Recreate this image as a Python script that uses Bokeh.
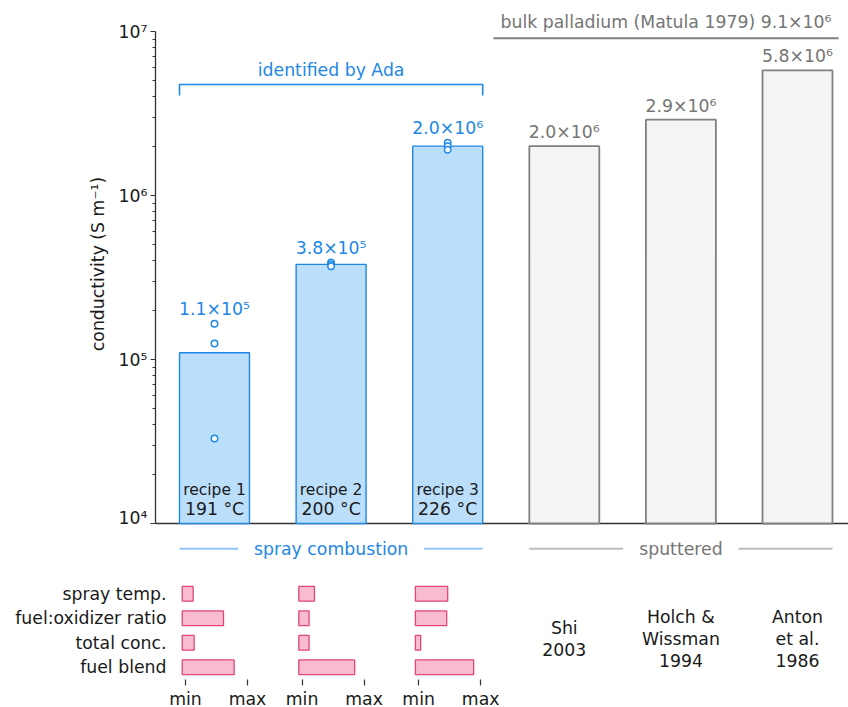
import numpy as np
from bokeh.plotting import figure
from bokeh.layouts import column
from bokeh.models import Range1d, FixedTicker
from bokeh.core.properties import value
from bokeh.embed import file_html
from bokeh.resources import INLINE

# ---------------- data ----------------
recipe_names = ["recipe 1", "recipe 2", "recipe 3"]
recipe_temps = ["191 °C", "200 °C", "226 °C"]
recipe_means = [1.1e5, 3.8e5, 2.0e6]
recipe_points = [[1.65e5, 1.25e5, 3.3e4],
                 [3.9e5, 3.8e5, 3.7e5],
                 [2.1e6, 2.0e6, 1.9e6]]
sputter_names = ["Shi\n2003", "Holch &\nWissman\n1994", "Anton\net al.\n1986"]
sputter_values = [2.0e6, 2.9e6, 5.8e6]
bulk_value = 9.1e6
bulk_name = "bulk palladium (Matula 1979)"
param_names = ["spray temp.", "fuel:oxidizer ratio", "total conc.", "fuel blend"]
param_values = [[0.124, 0.613, 0.140, 0.785],
                [0.200, 0.113, 0.113, 0.848],
                [0.468, 0.452, 0.032, 0.887]]
y_ticks = [1e4, 1e5, 1e6, 1e7]
y_tick_labels = ["10⁴", "10⁵", "10⁶", "10⁷"]
group_names = ["spray combustion", "sputtered"]
axis_title = "conductivity (S m⁻¹)"
bracket_title = "identified by Ada"

SUP = str.maketrans("0123456789-", "⁰¹²³⁴⁵⁶⁷⁸⁹⁻")


def sci(v):
    e = int(np.floor(np.log10(v)))
    m = v / 10 ** e
    return f"{m:.1f}×10" + str(e).translate(SUP)


# ---------------- style ----------------
FONT = value("DejaVu Sans")
FS = "17.3px"
BLUE = "#1e88e5"
LBLUE = "#90c6f6"
BFILL = "#bbdefb"
GREY_T = "#757575"
GREY_L = "#808080"
GFILL = "#f4f4f4"
PINK_F = "#f8bbd0"
PINK_L = "#e2457a"
INK = "#1a1a1a"
AX = "#333333"

W = 848
LB = 155
PX = 116.6
XA0 = -(214 - LB) / PX
XA1 = XA0 + (W - LB) / PX
DEC = 164.0
A_H = 527

rx = list(range(len(recipe_names)))
sx = [len(recipe_names) + i for i in range(len(sputter_names))]

# ---------------- main figure ----------------
p = figure(width=W, height=A_H,
           x_range=Range1d(XA0, XA1),
           y_range=Range1d(10 ** (4 - 4 / DEC), 10 ** (7 + 31 / DEC)),
           y_axis_type="log", output_backend="svg", toolbar_location=None,
           x_axis_location=None,
           min_border_left=LB, min_border_right=0, min_border_top=0, min_border_bottom=0)
p.grid.visible = False
p.outline_line_color = None

ax = p.yaxis[0]
minors = [k * 10 ** n for n in range(4, 7) for k in range(2, 10)]
ax.ticker = FixedTicker(ticks=y_ticks, minor_ticks=minors)
ax.major_label_overrides = {t: l for t, l in zip(y_ticks, y_tick_labels)}
ax.bounds = (y_ticks[0], y_ticks[-1])
ax.axis_line_color = AX
ax.axis_line_width = 1.3
ax.major_tick_line_color = AX
ax.minor_tick_line_color = AX
ax.major_tick_out = 5
ax.major_tick_in = 0
ax.minor_tick_out = 3
ax.minor_tick_in = 0
ax.major_label_standoff = 3
ax.major_label_text_font = "DejaVu Sans"
ax.major_label_text_font_size = FS
ax.major_label_text_color = INK
ax.axis_label = axis_title
ax.axis_label_text_font = "DejaVu Sans"
ax.axis_label_text_font_size = FS
ax.axis_label_text_font_style = "normal"
ax.axis_label_text_color = INK
ax.axis_label_standoff = 8

# baseline axis
p.line(x=[XA0, XA1], y=[y_ticks[0], y_ticks[0]], line_color=AX, line_width=1.3)

# bars
p.vbar(x=rx, top=recipe_means, bottom=y_ticks[0], width=0.6,
       fill_color=BFILL, line_color=BLUE, line_width=1.4)
p.vbar(x=sx, top=sputter_values, bottom=y_ticks[0], width=0.6,
       fill_color=GFILL, line_color=GREY_L, line_width=1.8)

# replicate points
ptx = [x for x, pts in zip(rx, recipe_points) for _ in pts]
pty = [v for pts in recipe_points for v in pts]
p.scatter(x=ptx, y=pty, size=6.5, marker="circle", fill_color="white",
          line_color=BLUE, line_width=1.5)

# value labels
rtop = [max([m] + pts) for m, pts in zip(recipe_means, recipe_points)]
p.text(x=rx, y=rtop, text=[sci(v) for v in recipe_means], text_font=FONT,
       text_font_size=FS, text_color=BLUE, text_align="center",
       text_baseline="bottom", y_offset=-5)
p.text(x=sx, y=sputter_values, text=[sci(v) for v in sputter_values], text_font=FONT,
       text_font_size=FS, text_color=GREY_T, text_align="center",
       text_baseline="bottom", y_offset=-4)

# recipe names inside bars
p.text(x=rx, y=[y_ticks[0]] * len(rx), text=recipe_names, text_font=FONT,
       text_font_size="15.5px", text_color=INK, text_align="center",
       text_baseline="middle", y_offset=-34)
p.text(x=rx, y=[y_ticks[0]] * len(rx), text=recipe_temps, text_font=FONT,
       text_font_size=FS, text_color=INK, text_align="center",
       text_baseline="middle", y_offset=-15)

# bracket "identified by Ada"
BR_HI, BR_LO = 4.75e6, 4.07e6
bl, br = rx[0] - 0.3, rx[-1] + 0.3
p.line(x=[bl, bl, br, br], y=[BR_LO, BR_HI, BR_HI, BR_LO], line_color=BLUE, line_width=1.6)
p.text(x=[(bl + br) / 2], y=[BR_HI], text=[bracket_title], text_font=FONT,
       text_font_size=FS, text_color=BLUE, text_align="center",
       text_baseline="bottom", y_offset=-5)

# bulk palladium reference
bk0, bk1 = 2.393, 5.352
p.line(x=[bk0, bk1], y=[bulk_value, bulk_value], line_color=GREY_L, line_width=2)
p.text(x=[(bk0 + bk1) / 2], y=[bulk_value], text=[bulk_name + " " + sci(bulk_value)],
       text_font=FONT, text_font_size=FS, text_color=GREY_T, text_align="center",
       text_baseline="bottom", y_offset=-6)

# ---------------- lower panel ----------------
ROW = 24.5
FH_B = 152
yb0 = -0.498
q = figure(width=W, frame_height=FH_B,
           x_range=p.x_range, y_range=Range1d(yb0, yb0 + FH_B / ROW),
           output_backend="svg", toolbar_location=None,
           min_border_left=LB, min_border_right=0, min_border_top=0, min_border_bottom=0)
q.grid.visible = False
q.outline_line_color = None

MIN_OFF, SPAN, BAR_LEFT = -0.249, 0.532, -0.277
row_y = list(range(len(param_names)))[::-1]

# row labels as the left axis of the lower panel
ya = q.yaxis[0]
ya.ticker = FixedTicker(ticks=row_y, minor_ticks=[])
ya.major_label_overrides = {t: n for t, n in zip(row_y, param_names)}
ya.axis_line_color = None
ya.major_tick_line_color = None
ya.major_tick_out = 0
ya.major_tick_in = 0
ya.minor_tick_out = 0
ya.minor_tick_in = 0
ya.major_label_standoff = -11
ya.major_label_text_font = "DejaVu Sans"
ya.major_label_text_font_size = FS
ya.major_label_text_color = INK

ticks = []
for c in rx:
    ticks += [round(c + MIN_OFF, 3), round(c + MIN_OFF + SPAN, 3)]
xa = q.xaxis[0]
xa.ticker = FixedTicker(ticks=ticks, minor_ticks=[])
xa.major_label_overrides = {t: ("min" if i % 2 == 0 else "max") for i, t in enumerate(ticks)}
xa.axis_line_color = None
xa.major_tick_line_color = AX
xa.major_tick_line_width = 1.2
xa.major_tick_out = 6
xa.major_tick_in = 0
xa.minor_tick_out = 0
xa.major_label_standoff = 3
xa.major_label_text_font = "DejaVu Sans"
xa.major_label_text_font_size = FS
xa.major_label_text_color = INK

# parameter bars
left, right, yy = [], [], []
for c, vals in zip(rx, param_values):
    for yv, v in zip(row_y, vals):
        left.append(c + BAR_LEFT)
        right.append(c + MIN_OFF + v * SPAN)
        yy.append(yv)
q.hbar(y=yy, left=left, right=right, height=0.6, fill_color=PINK_F,
       line_color=PINK_L, line_width=1.3)

# group labels with side rules
GY = 4.837
groups = [(rx, 0.797, BLUE, LBLUE), (sx, 0.495, GREY_T, "#bdbdbd")]
for name, (xs, half_gap, tc, lc) in zip(group_names, groups):
    mid = (xs[0] + xs[-1]) / 2
    g0, g1 = xs[0] - 0.3, xs[-1] + 0.3
    q.segment(x0=[g0, mid + half_gap], y0=[GY, GY], x1=[mid - half_gap, g1], y1=[GY, GY],
              line_color=lc, line_width=2)
    q.text(x=[mid], y=[GY], text=[name], text_font=FONT, text_font_size=FS,
           text_color=tc, text_align="center", text_baseline="middle")

# sputtered citations
q.text(x=sx, y=[1.155] * len(sx), text=sputter_names, text_font=FONT, text_font_size=FS,
       text_color=INK, text_align="center", text_baseline="middle", text_line_height=1.11)

layout = column(p, q, spacing=0)
open("out.html", "w").write(file_html(layout, INLINE))
